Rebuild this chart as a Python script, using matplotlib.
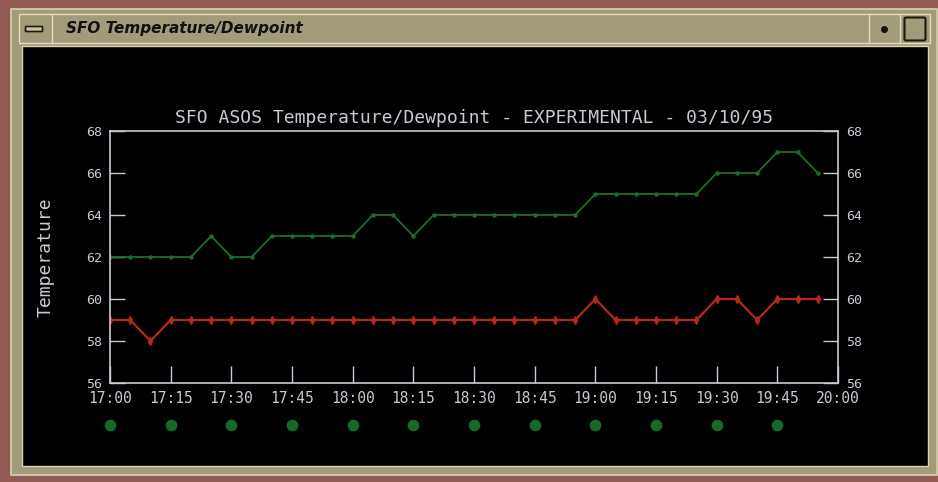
"""
SFO ASOS temperature / dewpoint trace, drawn inside an old X11-style window.
"""

import numpy as np
import matplotlib.pyplot as plt
from matplotlib.patches import Rectangle, FancyBboxPatch
from matplotlib.transforms import blended_transform_factory

# ---- data (5-minute obs, minutes after 17:00) ----
minutes = [0, 5, 10, 15, 20, 25, 30, 35, 40, 45, 50, 55,
           60, 65, 70, 75, 80, 85, 90, 95, 100, 105, 110, 115,
           120, 125, 130, 135, 140, 145, 150, 155, 160, 165, 170, 175]
temperature = [62, 62, 62, 62, 62, 63, 62, 62, 63, 63, 63, 63,
               63, 64, 64, 63, 64, 64, 64, 64, 64, 64, 64, 64,
               65, 65, 65, 65, 65, 65, 66, 66, 66, 67, 67, 66]
dewpoint = [59, 59, 58, 59, 59, 59, 59, 59, 59, 59, 59, 59,
            59, 59, 59, 59, 59, 59, 59, 59, 59, 59, 59, 59,
            60, 59, 59, 59, 59, 59, 60, 60, 59, 60, 60, 60]

tick_minutes = [0, 15, 30, 45, 60, 75, 90, 105, 120, 135, 150, 165, 180]
tick_labels = ["17:00", "17:15", "17:30", "17:45", "18:00", "18:15", "18:30",
               "18:45", "19:00", "19:15", "19:30", "19:45", "20:00"]
dot_minutes = [0, 15, 30, 45, 60, 75, 90, 105, 120, 135, 150, 165]
y_ticks = [56, 58, 60, 62, 64, 66, 68]

W, H = 938, 482
fg = "#c9c9d6"
mono = "DejaVu Sans Mono"

fig = plt.figure(figsize=(W / 100, H / 100), dpi=100, facecolor="#905a55")

# ---- window chrome (pixel coordinates) ----
bg = fig.add_axes([0, 0, 1, 1])
bg.set_xlim(0, W)
bg.set_ylim(H, 0)
bg.axis("off")
frame = "#a29b78"
bg.add_patch(Rectangle((11, 9), 926, 466, fc=frame, ec="#d8d2b0", lw=1.2))
bg.add_patch(Rectangle((19, 14), 911, 29, fc=frame, ec="#e2dcbc", lw=1))
bg.plot([52, 52], [15, 42], color="#e2dcbc", lw=1)
bg.add_patch(FancyBboxPatch((26, 27), 16, 4, boxstyle="round,pad=0.5",
                            fc="#c8c2a0", ec="#1a1a10", lw=1.2))
bg.text(66, 29, "SFO Temperature/Dewpoint", fontsize=11, style="italic",
        weight="bold", color="#111", va="center", ha="left")
bg.plot([869, 869], [15, 42], color="#e2dcbc", lw=1)
bg.plot([900, 900], [15, 42], color="#e2dcbc", lw=1)
bg.plot([884], [29], "o", color="#111", ms=4)
bg.add_patch(FancyBboxPatch((906, 19), 18, 20, boxstyle="round,pad=1.5",
                            fc="none", ec="#1a1a10", lw=1.5))
bg.add_patch(Rectangle((22, 46), 906, 420, fc="black", ec="#d8d2b0", lw=1))

# ---- chart ----
left, right, top, bottom = 110, 838, 131, 383
ax = fig.add_axes([left / W, (H - bottom) / H, (right - left) / W, (bottom - top) / H])
ax.set_facecolor("black")

ax.plot(minutes, temperature, "-", color="#187028", lw=1.3,
        marker="o", ms=2.2, mfc="#187028", mec="#187028")
ax.plot(minutes, dewpoint, "-", color="#b8281a", lw=1.6,
        marker="d", ms=4, mfc="#b8281a", mec="#b8281a")

ax.set_xlim(0, 180)
ax.set_ylim(56, 68)
ax.set_xticks(tick_minutes)
ax.set_xticklabels(tick_labels, family=mono, fontsize=10.5, color=fg)
ax.set_yticks(y_ticks)
ax.set_yticklabels([str(v) for v in y_ticks], family=mono, fontsize=9.5, color=fg)
ax.tick_params(axis="x", direction="in", length=12, width=1, color=fg, pad=6)
ax.tick_params(axis="y", direction="in", length=11, width=1, color=fg, pad=6,
               right=True, labelright=True)
for s in ax.spines.values():
    s.set_color(fg)
    s.set_linewidth(1.2)

ax.set_ylabel("Temperature", family=mono, fontsize=13, color=fg, labelpad=22)
ax.set_title("SFO ASOS Temperature/Dewpoint - EXPERIMENTAL - 03/10/95",
             family=mono, fontsize=13, color=fg, pad=6)

# row of green status dots under the time axis
trans = blended_transform_factory(ax.transData, ax.transAxes)
ax.scatter(dot_minutes, [-0.167] * len(dot_minutes), s=55, color="#16692a",
           transform=trans, clip_on=False, zorder=3)

fig.savefig("out.png", dpi=100, facecolor=fig.get_facecolor())
